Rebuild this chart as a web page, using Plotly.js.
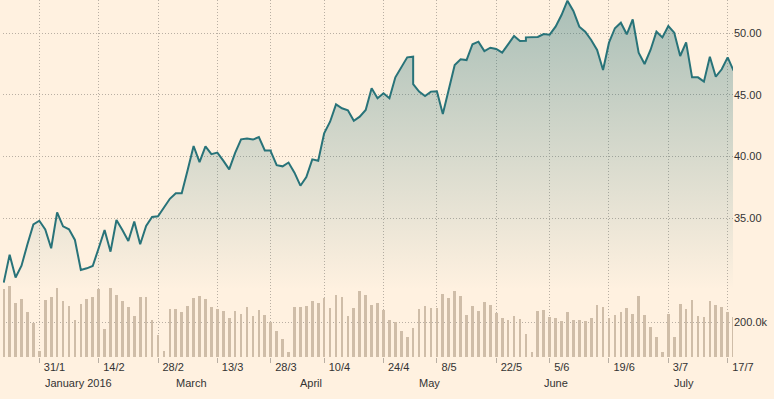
<!DOCTYPE html>
<html><head><meta charset="utf-8">
<script src="https://cdn.plot.ly/plotly-3.0.1.min.js"></script>
<style>html,body{margin:0;padding:0;background:#fff1e0;}#chart{width:774px;height:399px;}</style>
</head><body><div id="chart"></div>
<script>
const tradingDates = [
'2016-01-22','2016-01-25','2016-01-26','2016-01-27','2016-01-28','2016-01-29',
'2016-02-01','2016-02-02','2016-02-03','2016-02-04','2016-02-05','2016-02-08','2016-02-09','2016-02-10','2016-02-11','2016-02-12',
'2016-02-15','2016-02-16','2016-02-17','2016-02-18','2016-02-19','2016-02-22','2016-02-23','2016-02-24','2016-02-25','2016-02-26','2016-02-29',
'2016-03-01','2016-03-02','2016-03-03','2016-03-04','2016-03-07','2016-03-08','2016-03-09','2016-03-10','2016-03-11',
'2016-03-14','2016-03-15','2016-03-16','2016-03-17','2016-03-18','2016-03-21','2016-03-22','2016-03-23','2016-03-24','2016-03-29','2016-03-30','2016-03-31',
'2016-04-01','2016-04-04','2016-04-05','2016-04-06','2016-04-07','2016-04-08','2016-04-11','2016-04-12','2016-04-13','2016-04-14','2016-04-15',
'2016-04-18','2016-04-19','2016-04-20','2016-04-21','2016-04-22','2016-04-25','2016-04-26','2016-04-27','2016-04-28','2016-04-29',
'2016-05-03','2016-05-04','2016-05-05','2016-05-06','2016-05-09','2016-05-10','2016-05-11','2016-05-12','2016-05-13',
'2016-05-16','2016-05-17','2016-05-18','2016-05-19','2016-05-20','2016-05-23','2016-05-24','2016-05-25','2016-05-26','2016-05-27','2016-05-31',
'2016-06-01','2016-06-02','2016-06-03','2016-06-06','2016-06-07','2016-06-08','2016-06-09','2016-06-10','2016-06-13','2016-06-14','2016-06-15','2016-06-16','2016-06-17',
'2016-06-20','2016-06-21','2016-06-22','2016-06-23','2016-06-24','2016-06-27','2016-06-28','2016-06-29','2016-06-30',
'2016-07-01','2016-07-04','2016-07-05','2016-07-06','2016-07-07','2016-07-08','2016-07-11','2016-07-12','2016-07-13','2016-07-14','2016-07-15','2016-07-18','2016-07-19'
];
const close = [
29.78,32.05,30.2,31.15,32.9,34.5,
34.8,34.1,32.57,35.48,34.35,34.1,33.24,30.81,30.94,31.13,
32.57,34.05,32.29,34.86,34.05,33.16,34.73,32.89,34.38,35.1,35.16,
35.92,36.58,37.03,37.03,38.92,40.86,39.56,40.83,40.2,
40.33,39.67,38.97,40.3,41.4,41.46,41.38,41.58,40.5,40.43,39.31,39.21,
39.52,38.7,37.64,38.35,39.78,39.66,41.89,42.83,44.24,43.92,43.75,
42.91,43.24,43.78,45.54,44.73,45.13,44.73,46.43,47.27,48.05,
45.87,45.27,44.92,45.27,45.3,43.45,45.4,47.43,47.89,
47.83,49.11,49.32,48.56,48.83,48.73,48.43,49.1,49.78,49.38,49.67,
49.67,49.7,49.94,49.89,50.54,51.48,52.64,51.81,50.54,50.13,49.46,48.65,47.02,
49.24,50.41,50.86,49.92,51.13,48.43,47.51,48.65,50.13,
49.67,50.59,50.05,48.16,49.27,46.43,46.43,46.08,48.1,46.48,47.08,48.05,46.97
];
const volume = [
390000,410000,310000,333000,260000,198000,
35000,329000,346000,396000,323000,294000,213000,306000,333000,346000,
390000,160000,396000,358000,323000,287000,237000,346000,346000,213000,127000,
35000,275000,275000,260000,294000,338000,352000,333000,287000,
275000,263000,223000,263000,248000,287000,237000,271000,242000,202000,150000,104000,
29000,288000,288000,294000,323000,312000,340000,283000,358000,346000,237000,
283000,381000,358000,300000,312000,271000,213000,202000,150000,115000,
167000,277000,294000,283000,283000,363000,340000,381000,352000,
242000,294000,265000,317000,300000,254000,225000,213000,237000,219000,133000,
29000,265000,271000,231000,225000,208000,260000,213000,213000,208000,225000,300000,288000,
225000,242000,260000,283000,248000,352000,242000,173000,115000,
29000,248000,115000,306000,277000,329000,237000,231000,323000,300000,288000,260000,231000
];
// quotes on exchange holidays (carried at the previous close)
const holidayDates = ['2016-03-25','2016-03-28','2016-05-02','2016-05-30'];
const holidayClose = [40.5,40.5,48.1,49.4];

const tickDates = ['2016-01-31','2016-02-14','2016-02-28','2016-03-13','2016-03-28','2016-04-10','2016-04-24','2016-05-08','2016-05-22','2016-06-05','2016-06-19','2016-07-03','2016-07-17'];
const tickLabels = ['31/1','14/2','28/2','13/3','28/3','10/4','24/4','8/5','22/5','5/6','19/6','3/7','17/7'];
const monthLabels = ['January 2016','March','April','May','June','July'];
const monthDates = ['2016-02-01','2016-03-02','2016-04-04','2016-05-03','2016-06-02','2016-07-04'];
const priceTicks = [35,40,45,50];
const volumeTicks = [200000];

// trading-day slot: position of the first trading session on or after a date
function slot(d){
  for (let i = 0; i < tradingDates.length; i++) if (tradingDates[i] >= d) return i;
  return tradingDates.length - 1;
}

const quotes = tradingDates.map((d,i)=>({d:d, v:close[i]}))
  .concat(holidayDates.map((d,i)=>({d:d, v:holidayClose[i]})))
  .sort((a,b)=> a.d < b.d ? -1 : (a.d > b.d ? 1 : 0));

const FONT = 'Liberation Sans, Arial, sans-serif';
const GRID = '#b9afa3';
const TEXT = '#333333';
const LINE = '#287379';

const volTrace = {
  type:'bar', x: tradingDates.map((d,i)=>slot(d)), y: volume,
  width: 0.45, marker:{color:'#cfbda8', line:{width:0}},
  xaxis:'x', yaxis:'y', hoverinfo:'skip'
};
const priceTrace = {
  type:'scatter', mode:'lines',
  x: quotes.map(q=>slot(q.d)), y: quotes.map(q=>q.v),
  line:{color:LINE, width:2},
  fill:'tozeroy',
  fillgradient:{type:'vertical', start:29.2, stop:52.7,
    colorscale:[[0,'rgba(40,115,121,0)'],[1,'rgba(40,115,121,0.40)']]},
  xaxis:'x', yaxis:'y2', hoverinfo:'skip'
};

const annotations = monthLabels.map((t,i)=>({
  text:t, x: slot(monthDates[i]), xref:'x', xanchor:'left', xshift:4,
  y:0, yref:'paper', yanchor:'middle', yshift:-26, showarrow:false,
  font:{family:FONT, size:11, color:TEXT}
}));

const layout = {
  width:774, height:399,
  margin:{l:3, r:41, t:0, b:42, pad:0},
  paper_bgcolor:'#fff1e0', plot_bgcolor:'#fff1e0',
  showlegend:false, bargap:0,
  xaxis:{
    range:[-0.12, 122.9], tickmode:'array',
    tickvals: tickDates.map(slot), ticktext: tickLabels,
    ticks:'outside', ticklen:5, tickwidth:1, tickcolor:GRID,
    ticklabelposition:'outside right', ticklabelshift:4,
    showgrid:true, gridcolor:GRID, gridwidth:1, griddash:'1px,2px',
    zeroline:false, showline:false, fixedrange:true,
    tickfont:{family:FONT, size:11, color:TEXT}
  },
  yaxis:{
    range:[0, 2058000], side:'right', tickmode:'array', tickvals:volumeTicks,
    tickformat:'.4s', ticks:'', showgrid:true, gridcolor:GRID, gridwidth:1, griddash:'1px,2px',
    zeroline:false, showline:false, fixedrange:true,
    tickfont:{family:FONT, size:11, color:TEXT}
  },
  yaxis2:{
    range:[23.75, 52.70], overlaying:'y', side:'right', tickmode:'array', tickvals:priceTicks,
    tickformat:'.2f', ticks:'', showgrid:true, gridcolor:GRID, gridwidth:1, griddash:'1px,2px',
    zeroline:false, showline:false, fixedrange:true,
    tickfont:{family:FONT, size:11, color:TEXT}
  },
  annotations: annotations
};

Plotly.newPlot('chart', [volTrace, priceTrace], layout, {displayModeBar:false, staticPlot:true});
</script></body></html>
